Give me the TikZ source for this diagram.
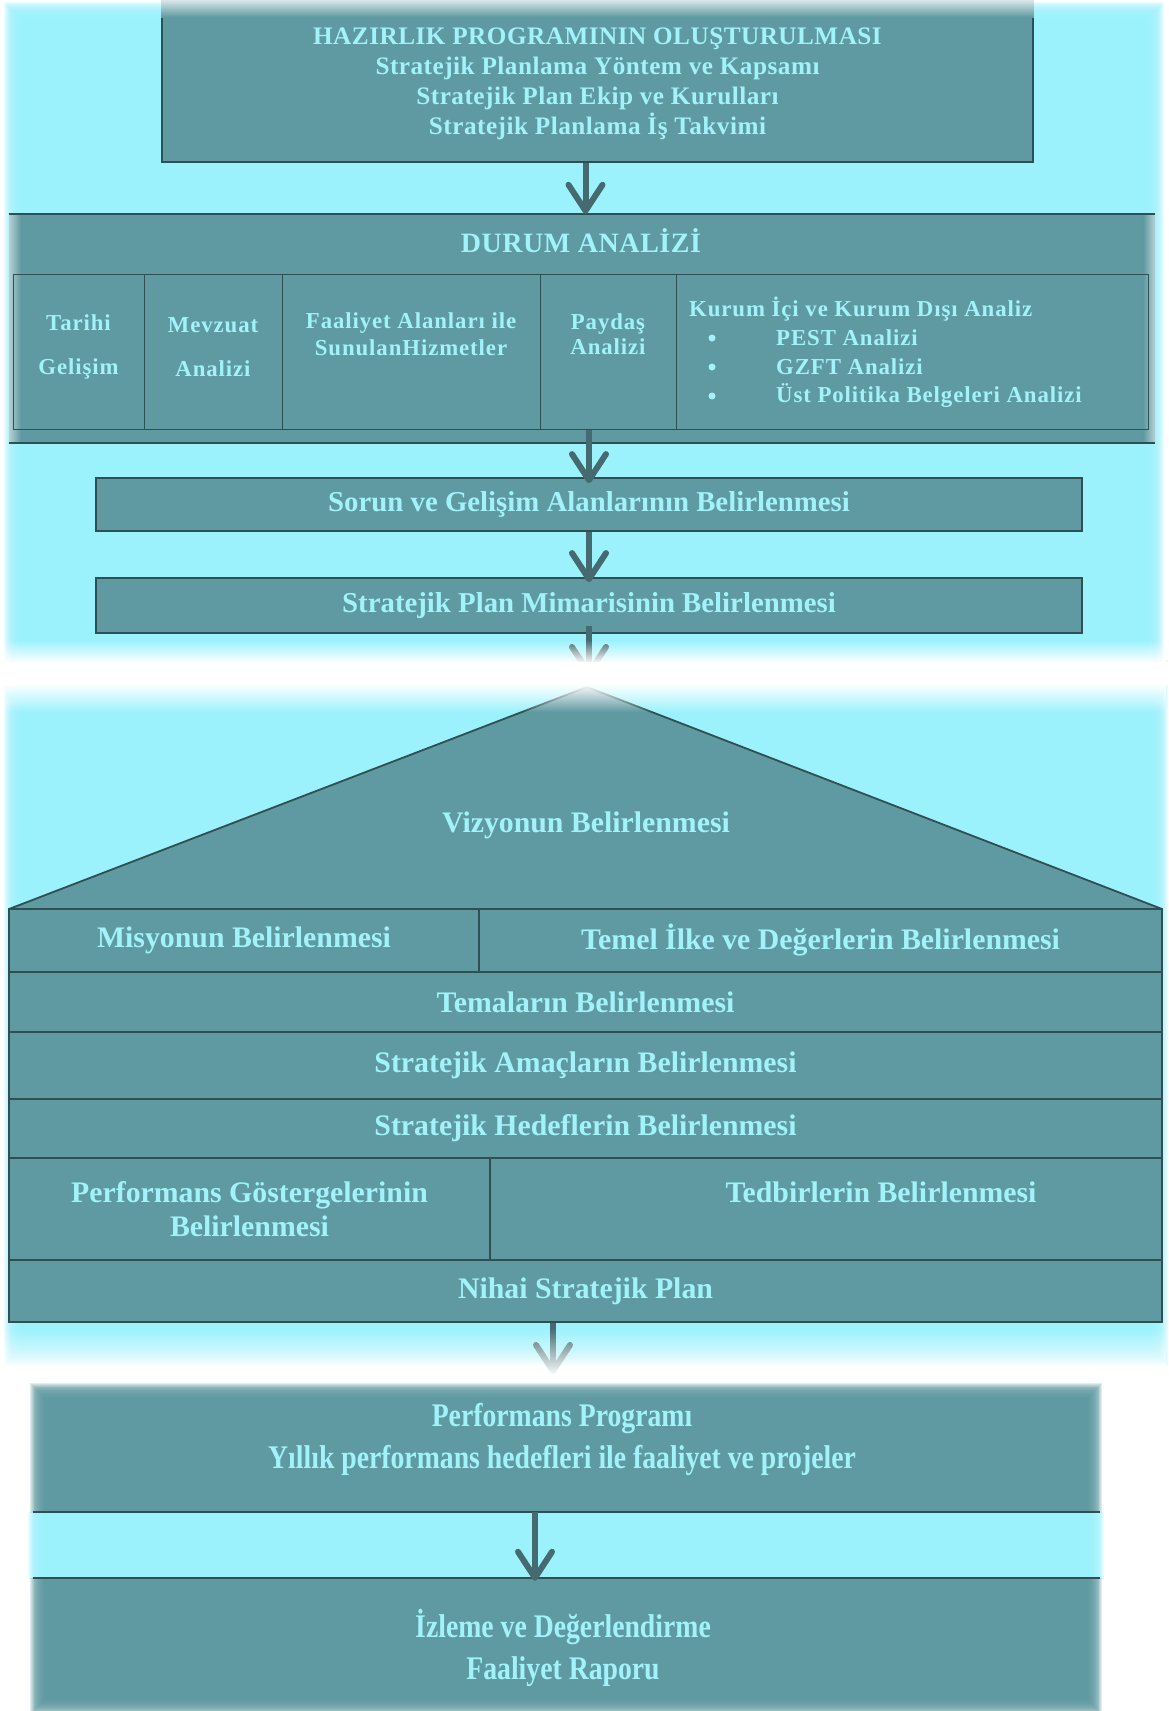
\documentclass[tikz,border=0pt]{standalone}
\usepackage{fontspec}
\setmainfont{Liberation Serif}
\newfontfamily\spacedfont[LetterSpace=2]{Liberation Serif}
\newfontfamily\cellfont[LetterSpace=4]{Liberation Serif}
\newfontfamily\narrowfont[FakeStretch=0.84]{Liberation Serif}
\usetikzlibrary{arrows.meta, fadings}

\definecolor{skyfill}{HTML}{9BF2FD}
\definecolor{tealfill}{HTML}{5F9AA2}
\definecolor{edgeline}{HTML}{2F4F53}
\definecolor{textcyan}{HTML}{A2F2FA}
\definecolor{arrowline}{HTML}{456B70}

\tikzfading[name=whitedown, top color=transparent!100, bottom color=transparent!0]
\tikzfading[name=whiteup, top color=transparent!0, bottom color=transparent!100]

% soft edged rectangle: colour, x1, y1, x2, y2, blur
\newcommand{\softrect}[6]{%
    \foreach \k in {0,...,15}
        \fill[#1, opacity=0.18] (#2+#6*\k/16, #3+#6*\k/16) rectangle (#4-#6*\k/16, #5-#6*\k/16);
    \fill[#1] (#2+#6, #3+#6) rectangle (#4-#6, #5-#6);}

\begin{document}
\begin{tikzpicture}[x=1pt, y=-1pt,
    box/.style={draw=edgeline, fill=tealfill, line width=1.8pt, inner sep=0pt, text=textcyan, align=center},
    cell/.style={draw=edgeline, line width=1pt, inner sep=0pt},
    ghost/.style={inner sep=0pt},
    lbl/.style={text=textcyan, inner sep=0pt, align=center},
    topfont/.style={font={\spacedfont\bfseries\fontsize{25.2pt}{30pt}\selectfont}},
    colfont/.style={font={\cellfont\bfseries\fontsize{22.8pt}{#1}\selectfont}},
    stepfont/.style={font={\bfseries\fontsize{28.8pt}{32pt}\selectfont}},
    housefont/.style={font={\bfseries\fontsize{29.8pt}{34pt}\selectfont}},
    lowfont/.style={font={\narrowfont\bfseries\fontsize{33pt}{42pt}\selectfont}},
    flow/.style={draw=arrowline, line width=6pt, -{Straight Barb[length=26pt, width=34pt, round]}}]

    \useasboundingbox (0,0) rectangle (1169,1711);
    \fill[white] (0,0) rectangle (1169,1711);

    % Background
    \softrect{skyfill}{4}{2}{1164}{700}{16}
    \softrect{skyfill}{4}{660}{1168}{1366}{16}

    % Preparation
    \node[box, minimum width=871pt, minimum height=160pt] (hazirlik) at (597.5,82) {};
    \shade[top color=white!75!tealfill, bottom color=tealfill]
    ([yshift=1pt]hazirlik.north west) rectangle ([yshift=-16pt]hazirlik.north east);
    \node[lbl, topfont] (hazirliktxt) at (597.5,84)
    {HAZIRLIK PROGRAMININ OLUŞTURULMASI\\Stratejik Planlama Yöntem ve Kapsamı\\
    Stratejik Plan Ekip ve Kurulları\\Stratejik Planlama İş Takvimi};

    % Situation analysis
    \node[ghost, fill=tealfill, minimum width=1146pt, minimum height=229pt] (durum) at (582,328.5) {};
    \shade[left color=white!55!tealfill, right color=tealfill]
    (durum.north west) rectangle ([xshift=12pt]durum.south west);
    \shade[left color=tealfill, right color=white!55!tealfill]
    ([xshift=-12pt]durum.north east) rectangle (durum.south east);
    \draw[edgeline, line width=2pt] (durum.north west) -- (durum.north east);
    \draw[edgeline, line width=2pt] (durum.south west) -- (durum.south east);
    \node[lbl, font={\spacedfont\bfseries\fontsize{28pt}{30pt}\selectfont}] (durumtxt) at (581,241) {DURUM ANALİZİ};

    \node[cell, minimum width=131pt, minimum height=155pt] (tarihi) at (78.5,351.5) {};
    \node[cell, minimum width=138pt, minimum height=155pt] (mevzuat) at (213,351.5) {};
    \node[cell, minimum width=258pt, minimum height=155pt] (faaliyet) at (411,351.5) {};
    \node[cell, minimum width=136pt, minimum height=155pt] (paydas) at (608,351.5) {};
    \node[cell, minimum width=472pt, minimum height=155pt] (kurum) at (912,351.5) {};

    \node[lbl, colfont=44pt] (tarihitxt) at (78.5,347) {Tarihi\\Gelişim};
    \node[lbl, colfont=44pt] (mevzuattxt) at (213,347) {Mevzuat\\Analizi};
    \node[lbl, colfont=27pt] (faaliyettxt) at (411,334) {Faaliyet Alanları ile\\SunulanHizmetler};
    \node[lbl, colfont=25pt] (paydastxt) at (608,334) {Paydaş\\Analizi};
    \node[lbl, colfont=25pt, anchor=west] (kurumtxt) at (689,309) {Kurum İçi ve Kurum Dışı Analiz};
    \foreach \entry [count=\i] in {PEST Analizi, GZFT Analizi, Üst Politika Belgeleri Analizi} {
        \node[circle, fill=textcyan, inner sep=0pt, minimum size=7pt] (dot\i) at (712,309+29*\i) {};
        \node[lbl, colfont=25pt, anchor=west] (item\i) at (776,309+29*\i) {\entry};
    }

    % Steps
    \node[box, stepfont, minimum width=986pt, minimum height=53pt] (sorun) at (589,504.5)
    {Sorun ve Gelişim Alanlarının Belirlenmesi};
    \node[box, stepfont, minimum width=986pt, minimum height=55pt] (mimari) at (589,605.5)
    {Stratejik Plan Mimarisinin Belirlenmesi};

    % House
    \coordinate (roofL) at (9,909);
    \coordinate (apex) at (587,687);
    \coordinate (roofR) at (1162,909);
    \fill[tealfill] (roofL) -- (apex) -- (roofR) -- cycle;
    \draw[edgeline, line width=1.8pt] (roofL) -- (apex) -- (roofR);
    \node[lbl, housefont] (vizyon) at (586,825) {Vizyonun Belirlenmesi};

    \node[box, housefont, minimum width=470pt, minimum height=63pt] (misyon) at (244,940.5) {Misyonun Belirlenmesi};
    \node[box, housefont, minimum width=683pt, minimum height=63pt] (temel) at (820.5,940.5) {Temel İlke ve Değerlerin Belirlenmesi};
    \node[box, housefont, minimum width=1153pt, minimum height=60pt] (temalar) at (585.5,1002) {Temaların Belirlenmesi};
    \node[box, housefont, minimum width=1153pt, minimum height=67pt] (amac) at (585.5,1065.5) {Stratejik Amaçların Belirlenmesi};
    \node[box, housefont, minimum width=1153pt, minimum height=59pt] (hedef) at (585.5,1128.5) {Stratejik Hedeflerin Belirlenmesi};
    \node[box, housefont, minimum width=481pt, minimum height=102pt] (gosterge) at (249.5,1209) {Performans Göstergelerinin\\Belirlenmesi};
    \node[box, minimum width=672pt, minimum height=102pt] (tedbir) at (826,1209) {};
    \node[lbl, housefont] (tedbirtxt) at (881,1192) {Tedbirlerin Belirlenmesi};
    \node[box, housefont, minimum width=1153pt, minimum height=62pt] (nihai) at (585.5,1291) {Nihai Stratejik Plan};

    % Arrows
    \coordinate (fadeA) at (589,676);
    \coordinate (fadeB) at (553,1374);
    \draw[flow] ([xshift=-12pt]hazirlik.south) -- ([xshift=-12pt]hazirlik.south |- durum.north);
    \draw[flow] (sorun.north |- tarihi.south) -- ([yshift=-6pt]sorun.north);
    \draw[flow] (sorun.south) -- ([yshift=-5pt]mimari.north);
    \draw[flow] ([yshift=8pt]mimari.south) -- (fadeA);
    \draw[flow] (nihai.south -| fadeB) -- (fadeB);

    \fill[white, path fading=whitedown] (0,640) rectangle (1169,663);
    \fill[white] (0,662) rectangle (1169,685);
    \fill[white, path fading=whiteup] (0,684) rectangle (1169,712);
    \fill[white, path fading=whitedown] (0,1328) rectangle (1169,1376);

    % Programme and monitoring
    \node[ghost, minimum width=1050pt, minimum height=117pt] (perf) at (565,1453.5) {};
    \node[ghost, minimum width=1050pt, minimum height=126pt] (izleme) at (565,1641) {};
    \begin{scope}
        \clip (0,1370) rectangle (1169,1512);
        \softrect{tealfill}{30}{1383}{1102}{1540}{14}
    \end{scope}
    \begin{scope}
        \clip (0,1512) rectangle (1169,1578);
        \softrect{skyfill}{28}{1498}{1104}{1592}{14}
    \end{scope}
    \begin{scope}
        \clip (0,1578) rectangle (1169,1711);
        \softrect{tealfill}{30}{1550}{1102}{1714}{14}
    \end{scope}
    \draw[edgeline, line width=2pt] ([xshift=-7pt]perf.south west) -- ([xshift=10pt]perf.south east);
    \draw[edgeline, line width=2pt] ([xshift=-7pt]izleme.north west) -- ([xshift=10pt]izleme.north east);

    \node[lbl, lowfont] (perftxt) at (562,1439) {Performans Programı\\Yıllık performans hedefleri ile faaliyet ve projeler};
    \node[lbl, lowfont] (izlemetxt) at (563,1648) {İzleme ve Değerlendirme\\Faaliyet Raporu};

    \draw[flow] ([xshift=-30pt]perf.south) -- ([xshift=-30pt,yshift=-3pt]izleme.north);

\end{tikzpicture}
\end{document}
